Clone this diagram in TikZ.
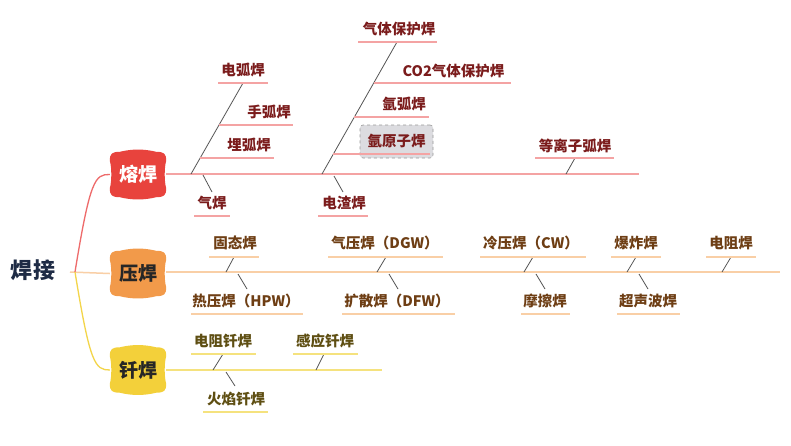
\documentclass[tikz,border=0pt]{standalone}
\usepackage{fontspec}
\setmainfont{Noto Sans CJK SC}
\usetikzlibrary{backgrounds}
\definecolor{rmain}{HTML}{E8433D}
\definecolor{omain}{HTML}{F29A4A}
\definecolor{ymain}{HTML}{F3D03A}
\definecolor{rline}{HTML}{F4A3A3}
\definecolor{rcurve}{HTML}{EE6B6B}
\definecolor{oline}{HTML}{F9CFA6}
\definecolor{yline}{HTML}{F5E27E}
\definecolor{ycurve}{HTML}{F3D54A}
\definecolor{rtext}{HTML}{7B1C1C}
\definecolor{otext}{HTML}{6E3E14}
\definecolor{ytext}{HTML}{5E4E12}
\definecolor{slant}{HTML}{555555}
\definecolor{navy}{HTML}{1E2B45}
\definecolor{boxgray}{HTML}{DCDCE0}
\newcommand\catshape[2]{%
 \fill[#2] ([shift={(0,9)}]#1.north west) .. controls ([shift={(0,2)}]#1.north west) and ([shift={(2,0)}]#1.north west) .. ([shift={(10,0)}]#1.north west)
  .. controls ([shift={(22,-3)}]#1.north west) and ([shift={(-22,-3)}]#1.north east) .. ([shift={(-10,0)}]#1.north east)
  .. controls ([shift={(-2,0)}]#1.north east) and ([shift={(0,2)}]#1.north east) .. ([shift={(0,9)}]#1.north east)
  .. controls ([shift={(-2,15)}]#1.north east) and ([shift={(-2,-15)}]#1.south east) .. ([shift={(0,-9)}]#1.south east)
  .. controls ([shift={(0,-2)}]#1.south east) and ([shift={(-2,0)}]#1.south east) .. ([shift={(-10,0)}]#1.south east)
  .. controls ([shift={(-22,3)}]#1.south east) and ([shift={(22,3)}]#1.south west) .. ([shift={(10,0)}]#1.south west)
  .. controls ([shift={(2,0)}]#1.south west) and ([shift={(0,-2)}]#1.south west) .. ([shift={(0,-9)}]#1.south west)
  .. controls ([shift={(2,-15)}]#1.south west) and ([shift={(2,15)}]#1.north west) .. cycle;}
\begin{document}
\begin{tikzpicture}[x=1pt,y=-1pt,
  rt/.style={text=rtext,font=\fontsize{14.5}{16}\selectfont\bfseries,inner sep=0pt},
  ot/.style={rt,text=otext},
  yt/.style={rt,text=ytext},
  ru/.style={draw=rline,line width=1.4pt},
  ou/.style={draw=oline,line width=1.4pt},
  yu/.style={draw=yline,line width=1.4pt},
  sl/.style={draw=slant,line width=0.8pt},
  cat/.style={font=\fontsize{19}{21}\selectfont\bfseries,minimum width=56,minimum height=45,inner sep=0pt}
]
\useasboundingbox (0,0) rectangle (791,445);
% root and categories
\node[font=\fontsize{22}{24}\selectfont\bfseries,text=navy,inner sep=0pt] (root) at (33,270) {焊\hspace{1pt}接};
\node[cat,text=white] (rh) at (138,174.5) {熔焊};
\node[cat,text=black!85] (yah) at (138,273.5) {压焊};
\node[cat,text=black!85] (qh) at (138,370) {钎焊};
\begin{scope}[on background layer]
\fill[white] (0,0) rectangle (791,445);
\catshape{rh}{rmain}
\catshape{yah}{omain}
\catshape{qh}{ymain}
\end{scope}
\coordinate (hub0) at (70,272);
\coordinate (hub) at (75,272);
\draw[oline,line width=1.5pt] (hub0) -- (yah.west);
\draw[rcurve,line width=1.3pt] (hub) .. controls (90,180) and (95,174) .. (rh.west);
\draw[ycurve,line width=1.3pt] (hub) .. controls (90,364) and (95,370) .. (qh.west);
% main lines
\coordinate (rend) at (639,174);
\coordinate (oend) at (780,272);
\coordinate (yend) at (382,370);
\draw[rline,line width=1.5pt] (rh.east |- rend) -- (rend);
\draw[oline,line width=1.5pt] (yah.east |- oend) -- (oend);
\draw[yline,line width=1.5pt] (qh.east |- yend) -- (yend);

% ===== 熔焊 =====
\coordinate (a0) at (191,174); \coordinate (a1) at (243,83);
\draw[sl] (a0) -- (a1);
\coordinate (dhL) at (218,83); \coordinate (dhR) at (268,83);
\draw[ru] (dhL) -- (dhR);
\node[rt] (dh) at (243,70) {电弧焊};
\coordinate (shL) at (219,125); \coordinate (shR) at (293,125);
\draw[ru] (shL) -- (shR);
\node[rt] (sh) at (269,112) {手弧焊};
\coordinate (mhL) at (200,158); \coordinate (mhR) at (274,158);
\draw[ru] (mhL) -- (mhR);
\node[rt] (mh) at (249,145) {埋弧焊};
\coordinate (qa0) at (203,175); \coordinate (qa1) at (212,192);
\draw[sl] (qa0) -- (qa1);
\coordinate (qhL) at (194,216); \coordinate (qhR) at (230,216);
\draw[ru] (qhL) -- (qhR);
\node[rt] (qih) at (212,203) {气焊};

\coordinate (b0) at (322,174); \coordinate (b1) at (397,42);
\draw[sl] (b0) -- (b1);
\coordinate (qtL) at (358,42); \coordinate (qtR) at (437,42);
\draw[ru] (qtL) -- (qtR);
\node[rt] (qt) at (399,29) {气体保护焊};
\coordinate (coL) at (374,83); \coordinate (coR) at (511,83);
\draw[ru] (coL) -- (coR);
\node[rt] (co) at (453.5,71) {CO2气体保护焊};
\coordinate (ahL) at (354,117); \coordinate (ahR) at (429,117);
\draw[ru] (ahL) -- (ahR);
\node[rt] (ah) at (404,104) {氩弧焊};
\node[rt,fill=boxgray,draw=black!40,dashed,line width=0.6pt,rounded corners=3pt,minimum width=73,minimum height=33] (ay) at (396.5,141.5) {氩原子焊};
\coordinate (ayL) at (333,154); \coordinate (ayR) at (430,154);
\draw[ru] (ayL) -- (ayR);
\coordinate (dz0) at (334,176); \coordinate (dz1) at (343,192);
\draw[sl] (dz0) -- (dz1);
\coordinate (dzL) at (318,216); \coordinate (dzR) at (368,216);
\draw[ru] (dzL) -- (dzR);
\node[rt] (dz) at (344,203) {电渣焊};
\coordinate (dl0) at (566,174); \coordinate (dl1) at (575,158);
\draw[sl] (dl0) -- (dl1);
\coordinate (dlL) at (535,158); \coordinate (dlR) at (614,158);
\draw[ru] (dlL) -- (dlR);
\node[rt] (dl) at (575,146) {等离子弧焊};

% ===== 压焊 =====
\coordinate (g0) at (226,272); \coordinate (g1) at (234,257);
\draw[sl] (g0) -- (g1);
\coordinate (gL) at (209,257); \coordinate (gR) at (259,257);
\draw[ou] (gL) -- (gR);
\node[ot] (gt) at (235,243) {固态焊};
\coordinate (r0) at (238,274); \coordinate (r1) at (247,289);
\draw[sl] (r0) -- (r1);
\coordinate (rL) at (191,314); \coordinate (rR) at (303,314);
\draw[ou] (rL) -- (rR);
\node[ot] (ry) at (246,301) {热压焊（HPW）};
\coordinate (q0) at (377,272); \coordinate (q1) at (386,257);
\draw[sl] (q0) -- (q1);
\coordinate (qL) at (328,257); \coordinate (qR) at (443,257);
\draw[ou] (qL) -- (qR);
\node[ot] (qy) at (385,243) {气压焊（DGW）};
\coordinate (k0) at (389,274); \coordinate (k1) at (398,289);
\draw[sl] (k0) -- (k1);
\coordinate (kL) at (342,314); \coordinate (kR) at (455,314);
\draw[ou] (kL) -- (kR);
\node[ot] (ks) at (397,301) {扩散焊（DFW）};
\coordinate (l0) at (524,272); \coordinate (l1) at (533,257);
\draw[sl] (l0) -- (l1);
\coordinate (lL) at (480,257); \coordinate (lR) at (586,257);
\draw[ou] (lL) -- (lR);
\node[ot] (ly) at (531,243) {冷压焊（CW）};
\coordinate (m0) at (536,274); \coordinate (m1) at (545,289);
\draw[sl] (m0) -- (m1);
\coordinate (mL) at (521,314); \coordinate (mR) at (570,314);
\draw[ou] (mL) -- (mR);
\node[ot] (mc) at (545,301) {摩擦焊};
\coordinate (bz0) at (627,272); \coordinate (bz1) at (636,257);
\draw[sl] (bz0) -- (bz1);
\coordinate (bzL) at (611,257); \coordinate (bzR) at (661,257);
\draw[ou] (bzL) -- (bzR);
\node[ot] (bz) at (636,243) {爆炸焊};
\coordinate (cs0) at (639,274); \coordinate (cs1) at (648,289);
\draw[sl] (cs0) -- (cs1);
\coordinate (csL) at (617,314); \coordinate (csR) at (680,314);
\draw[ou] (csL) -- (csR);
\node[ot] (cs) at (648,301) {超声波焊};
\coordinate (dr0) at (722,272); \coordinate (dr1) at (731,257);
\draw[sl] (dr0) -- (dr1);
\coordinate (drL) at (706,257); \coordinate (drR) at (756,257);
\draw[ou] (drL) -- (drR);
\node[ot] (dr) at (731,243) {电阻焊};

% ===== 钎焊 =====
\coordinate (e0) at (213,370); \coordinate (e1) at (223,354);
\draw[sl] (e0) -- (e1);
\coordinate (eL) at (191,354); \coordinate (eR) at (256,354);
\draw[yu] (eL) -- (eR);
\node[yt] (ez) at (223,341) {电阻钎焊};
\coordinate (h0) at (226,372); \coordinate (h1) at (235,386);
\draw[sl] (h0) -- (h1);
\coordinate (hL) at (203,412); \coordinate (hR) at (268,412);
\draw[yu] (hL) -- (hR);
\node[yt] (hy) at (236,399) {火焰钎焊};
\coordinate (gy0) at (316,370); \coordinate (gy1) at (324,354);
\draw[sl] (gy0) -- (gy1);
\coordinate (gyL) at (293,354); \coordinate (gyR) at (358,354);
\draw[yu] (gyL) -- (gyR);
\node[yt] (gy) at (325,341) {感应钎焊};
\end{tikzpicture}
\end{document}
